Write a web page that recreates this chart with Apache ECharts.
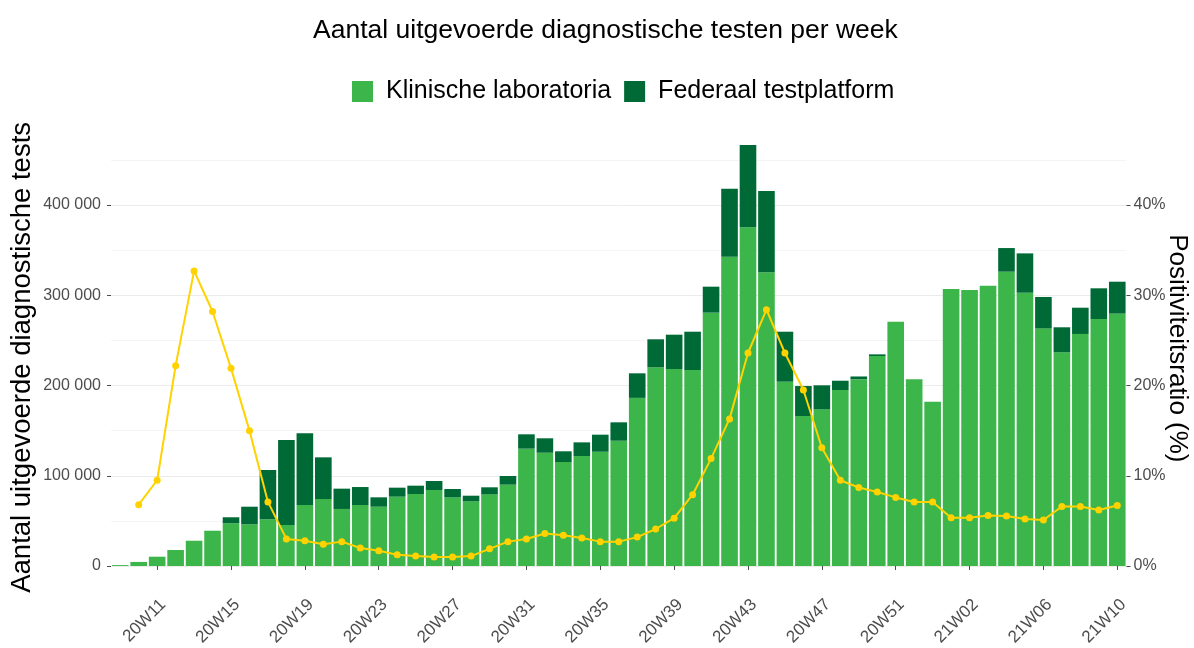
<!DOCTYPE html>
<html>
<head>
<meta charset="utf-8">
<script src="https://cdn.jsdelivr.net/npm/echarts@6/dist/echarts.min.js"></script>
<style>
  html, body { margin: 0; padding: 0; background: #fff; }
  #chart { width: 1194px; height: 648px; }
</style>
</head>
<body>
<div id="chart"></div>
<script>
// weken 20W09 .. 21W10
const weeks = [
  '20W09', '20W10', '20W11', '20W12', '20W13', '20W14', '20W15', '20W16', '20W17', '20W18',
  '20W19', '20W20', '20W21', '20W22', '20W23', '20W24', '20W25', '20W26', '20W27', '20W28',
  '20W29', '20W30', '20W31', '20W32', '20W33', '20W34', '20W35', '20W36', '20W37', '20W38',
  '20W39', '20W40', '20W41', '20W42', '20W43', '20W44', '20W45', '20W46', '20W47', '20W48',
  '20W49', '20W50', '20W51', '20W52', '20W53', '21W01', '21W02', '21W03', '21W04', '21W05',
  '21W06', '21W07', '21W08', '21W09', '21W10'
]

// klinische laboratoria (onderste deel van de staaf)
const klinisch = [
  1000, 4500, 10300, 17700, 28000, 39100, 47300, 46200, 51700, 45400,
  67600, 74200, 63200, 67600, 65700, 76800, 79800, 84200, 76100, 71700,
  79400, 90100, 130000, 125500, 115200, 121900, 126600, 138800, 186300, 220200,
  218300, 217200, 280700, 342700, 375300, 325400, 204200, 166200, 173600, 195000,
  207000, 232700, 270700, 206800, 182100, 306900, 305800, 310600, 326100, 302800,
  263300, 236800, 257100, 273700, 279600
]

// federaal testplatform (bovenste deel)
const federaal = [
  0, 0, 0, 0, 0, 0, 6700, 19500, 54700, 94200,
  79400, 46200, 22500, 19900, 10400, 10000, 9200, 10000, 9200, 6200,
  7800, 9600, 15900, 16000, 11900, 15100, 18900, 20400, 27200, 31000,
  38000, 42400, 28800, 75400, 91200, 90100, 55400, 33200, 26600, 10300,
  3000, 1800, 0, 0, 0, 0, 0, 0, 26200, 43600,
  34800, 27700, 29100, 34000, 35400
]

// positiviteitsratio in %
const positiviteit = [
  null, 6.8, 9.5, 22.2, 32.7, 28.2, 21.9, 15.0, 7.1, 3.0,
  2.8, 2.4, 2.7, 2.0, 1.7, 1.25, 1.1, 1.0, 1.0, 1.1,
  1.9, 2.7, 3.0, 3.6, 3.4, 3.1, 2.7, 2.7, 3.2, 4.1,
  5.3, 7.9, 11.9, 16.3, 23.6, 28.4, 23.6, 19.5, 13.1, 9.5,
  8.7, 8.2, 7.6, 7.1, 7.1, 5.35, 5.35, 5.6, 5.55, 5.2,
  5.1, 6.6, 6.6, 6.2, 6.7
]

const FONT = '"Liberation Sans", Arial, sans-serif'
const LIGHT = '#3cb54a'
const DARK = '#006a36'
const GOLD = '#ffd200'
const labelEvery4 = (idx) => (idx - 2) % 4 === 0

const fmtThousands = (v) => String(v).replace(/\B(?=(\d{3})+(?!\d))/g, ' ')

const chart = echarts.init(document.getElementById('chart'))
chart.setOption({
  animation: false,
  textStyle: { fontFamily: FONT },
  title: {
    text: 'Aantal uitgevoerde diagnostische testen per week',
    left: 308, top: 12,
    textStyle: { fontFamily: FONT, fontSize: 26.5, fontWeight: 'normal', color: '#000' }
  },
  legend: {
    top: 74, left: 347,
    data: ['Klinische laboratoria', 'Federaal testplatform'],
    icon: 'rect', itemWidth: 21, itemHeight: 21, itemGap: 13,
    textStyle: { fontFamily: FONT, fontSize: 25, color: '#000', padding: [0, 0, 0, 8] }
  },
  grid: { left: 111, right: 67.5, top: 114.75, bottom: 82, outerBoundsMode: 'none', containLabel: false },
  xAxis: {
    type: 'category',
    data: weeks,
    offset: 17,
    axisLine: { show: false },
    axisTick: { show: true, length: 4, alignWithLabel: true, interval: labelEvery4, lineStyle: { color: '#4d4d4d' } },
    axisLabel: {
      interval: labelEvery4, rotate: 45, margin: 13, fontSize: 17, color: '#4d4d4d', fontFamily: FONT,
      align: 'right', verticalAlign: 'top'
    },
    splitLine: { show: false }
  },
  yAxis: [
    {
      type: 'value', min: 0, max: 500000, interval: 100000,
      name: 'Aantal uitgevoerde diagnostische tests',
      nameLocation: 'middle', nameGap: 75, nameMoveOverlap: false,
      nameTextStyle: { fontSize: 27.5, color: '#000', fontFamily: FONT, padding: [0, 34, 0, 0] },
      axisLine: { show: false },
      axisTick: { show: true, length: 4, lineStyle: { color: '#4d4d4d' } },
      axisLabel: { margin: 10, fontSize: 16, color: '#4d4d4d', fontFamily: FONT, showMaxLabel: false, formatter: fmtThousands },
      splitLine: { lineStyle: { color: ['#ebebeb', '#ebebeb', '#ebebeb', '#ebebeb', '#ebebeb', 'rgba(0,0,0,0)'], width: 1 } },
      minorTick: { show: false, splitNumber: 2 },
      minorSplitLine: { show: true, lineStyle: { color: '#f4f4f4', width: 1 } }
    },
    {
      type: 'value', min: 0, max: 50, interval: 10,
      name: 'Positiviteitsratio (%)',
      nameLocation: 'middle', nameGap: 38, nameRotate: -90, nameMoveOverlap: false,
      nameTextStyle: { fontSize: 26, color: '#000', fontFamily: FONT, padding: [0, 0, 0, 16] },
      axisLine: { show: false },
      axisTick: { show: true, length: 4, lineStyle: { color: '#4d4d4d' } },
      axisLabel: { margin: 7, fontSize: 16, color: '#4d4d4d', fontFamily: FONT, showMaxLabel: false, formatter: '{value}%' },
      splitLine: { show: false }
    }
  ],
  series: [
    {
      name: 'Klinische laboratoria', type: 'bar', stack: 'tests',
      data: klinisch, barCategoryGap: '10%',
      itemStyle: { color: LIGHT }
    },
    {
      name: 'Federaal testplatform', type: 'bar', stack: 'tests',
      data: federaal,
      itemStyle: { color: DARK }
    },
    {
      name: 'Positiviteitsratio', type: 'line', yAxisIndex: 1,
      data: positiviteit,
      symbol: 'circle', symbolSize: 7,
      lineStyle: { color: GOLD, width: 2 },
      itemStyle: { color: GOLD },
      z: 5
    }
  ]
})
</script>
</body>
</html>
